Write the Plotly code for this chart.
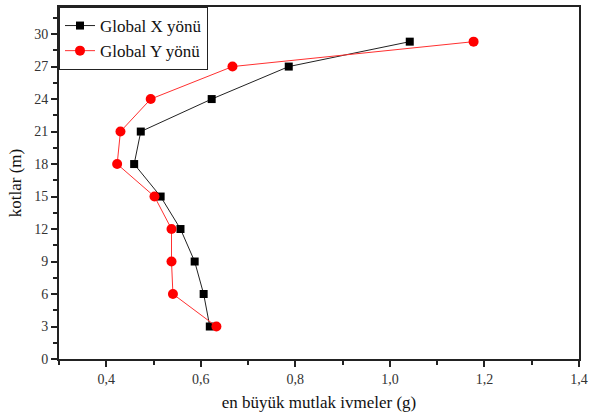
import plotly.graph_objects as go

# Floor elevations (m)
kotlar = [3, 6, 9, 12, 15, 18, 21, 24, 27, 29.3]

# Peak absolute accelerations (g) in each global direction
ivme_x = [0.619, 0.606, 0.587, 0.557, 0.515, 0.459, 0.473, 0.623, 0.786, 1.042]
ivme_y = [0.633, 0.541, 0.538, 0.538, 0.502, 0.423, 0.430, 0.494, 0.667, 1.177]

x_ticks = [0.4, 0.6, 0.8, 1.0, 1.2, 1.4]
y_ticks = [0, 3, 6, 9, 12, 15, 18, 21, 24, 27, 30]

FONT = "Liberation Serif"

fig = go.Figure()
fig.add_trace(go.Scatter(
    x=ivme_x, y=kotlar, mode="lines+markers", name="Global X yönü",
    line=dict(color="#222222", width=1),
    marker=dict(symbol="square", size=8, color="black"),
))
fig.add_trace(go.Scatter(
    x=ivme_y, y=kotlar, mode="lines+markers", name="Global Y yönü",
    line=dict(color="#ff3030", width=1),
    marker=dict(symbol="circle", size=10, color="red"),
))

fig.update_layout(
    width=589, height=415,
    margin=dict(l=59, r=10, t=7, b=56, autoexpand=False),
    paper_bgcolor="white", plot_bgcolor="white",
    separators=",.",
    font=dict(family=FONT, size=14, color="#333333"),
    showlegend=True,
    legend=dict(
        x=0, y=1, xanchor="left", yanchor="top",
        bgcolor="white", bordercolor="#222222", borderwidth=1,
        font=dict(family=FONT, size=17, color="#111111"),
        itemwidth=30, tracegroupgap=0,
    ),
    xaxis=dict(
        range=[0.3, 1.4], tickvals=x_ticks, tickformat=".1f",
        ticks="outside", ticklen=6, tickwidth=1.5, tickcolor="#222222",
        minor=dict(dtick=0.1, tick0=0.3, ticks="outside", ticklen=4, tickwidth=1.5, tickcolor="#222222"),
        showline=True, linecolor="#222222", linewidth=2, mirror=True,
        showgrid=False, zeroline=False, automargin=False,
        tickfont=dict(family=FONT, size=14),
        title=dict(text="en büyük mutlak ivmeler (g)", font=dict(family=FONT, size=17, color="#111111"), standoff=10),
    ),
    yaxis=dict(
        range=[0, 32.5], tickvals=y_ticks,
        ticks="outside", ticklen=6, tickwidth=1.5, tickcolor="#222222",
        minor=dict(dtick=1.5, tick0=0, ticks="outside", ticklen=4, tickwidth=1.5, tickcolor="#222222"),
        showline=True, linecolor="#222222", linewidth=2, mirror=True,
        showgrid=False, zeroline=False, automargin=False,
        tickfont=dict(family=FONT, size=14),
        title=dict(text="kotlar (m)", font=dict(family=FONT, size=17, color="#111111"), standoff=8),
    ),
)

fig.write_html("out.html")
